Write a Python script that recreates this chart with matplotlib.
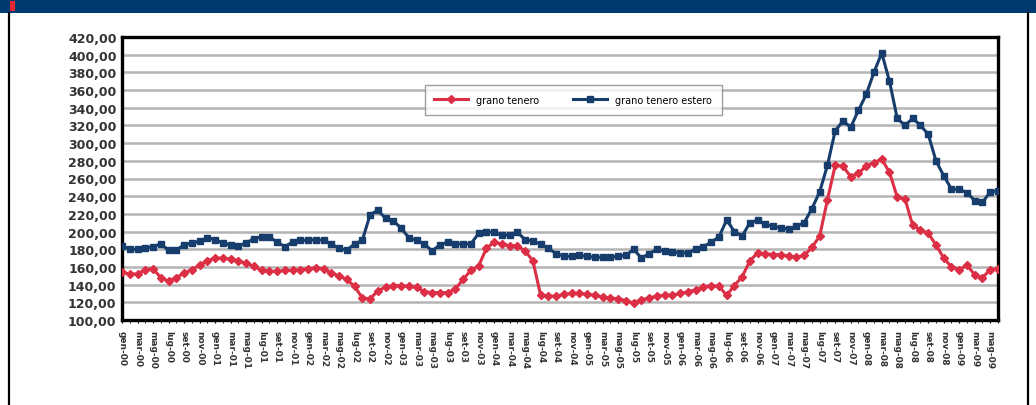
import matplotlib
matplotlib.use("Agg")
import matplotlib.pyplot as plt
from matplotlib.patches import Rectangle
from matplotlib.lines import Line2D

# dati mensili gen-00 .. giu-09
mesi = ["gen", "feb", "mar", "apr", "mag", "giu", "lug", "ago", "set", "ott", "nov", "dic"]
anni = ["00", "01", "02", "03", "04", "05", "06", "07", "08", "09"]
categorie = [m + "-" + a for a in anni for m in mesi][:114]

grano_tenero = [
    154, 152, 152, 157, 158, 148, 144, 148, 153, 157, 162, 167,
    170, 170, 169, 167, 164, 161, 156, 155, 155, 156, 156, 157,
    158, 159, 158, 153, 150, 146, 138, 125, 124, 133, 137, 139,
    139, 138, 137, 132, 131, 131, 131, 135, 146, 156, 161, 181,
    188, 186, 184, 184, 178, 167, 128, 127, 127, 129, 130, 130,
    129, 128, 126, 125, 124, 122, 119, 123, 125, 127, 128, 128,
    130, 132, 134, 137, 139, 138, 128, 139, 149, 167, 176, 175,
    174, 174, 172, 171, 173, 182, 195, 236, 275, 274, 262, 266,
    274, 278, 282, 267, 239, 237, 207, 202, 198, 185, 170, 160,
    157, 162, 151, 148, 157, 158,
]

grano_tenero_estero = [
    184, 180, 180, 181, 183, 186, 179, 179, 185, 187, 189, 193,
    191, 187, 185, 184, 187, 192, 194, 194, 188, 183, 188, 190,
    190, 191, 190, 186, 181, 179, 186, 190, 219, 224, 215, 212,
    204, 193, 190, 186, 178, 185, 188, 186, 186, 186, 198, 200,
    199, 196, 196, 199, 191, 189, 186, 181, 175, 172, 172, 173,
    172, 171, 171, 171, 172, 173, 180, 170, 175, 180, 178, 177,
    176, 176, 180, 183, 188, 194, 213, 200, 195, 210, 213, 208,
    206, 204, 203, 206, 210, 226, 245, 275, 314, 325, 318, 337,
    355, 380, 402, 370, 328, 320, 328, 320, 310, 280, 263, 248,
    248, 244, 235, 233, 245, 246,
]

y_ticks = list(range(100, 421, 20))

x = list(range(len(categorie)))

fig = plt.figure(figsize=(10.36, 4.06), dpi=100)
fig.patch.set_facecolor("white")

# fascia blu in alto e bordi
fig.add_artist(Rectangle((0, 1 - 14 / 406), 1, 14 / 406, transform=fig.transFigure,
                         facecolor="#003a70", edgecolor="none"))
fig.add_artist(Rectangle((10 / 1036, 1 - 12 / 406), 5 / 1036, 10 / 406, transform=fig.transFigure,
                         facecolor="#e3262f", edgecolor="none"))
fig.add_artist(Line2D([8.5 / 1036, 8.5 / 1036], [0, 1 - 14 / 406], transform=fig.transFigure,
                      color="black", lw=1.6))
fig.add_artist(Line2D([1027.5 / 1036, 1027.5 / 1036], [0, 1 - 14 / 406], transform=fig.transFigure,
                      color="black", lw=1.6))

ax = fig.add_axes([122 / 1036, 1 - 321 / 406, 876 / 1036, 283 / 406])

ax.plot(x, grano_tenero, color="#dc2f45", lw=2.2, marker="D", markersize=3.6,
        label="grano tenero", zorder=3)
ax.plot(x, grano_tenero_estero, color="#163d6b", lw=2.2, marker="s", markersize=4,
        label="grano tenero estero", zorder=4)

ax.set_xlim(0, len(categorie) - 1)
ax.set_ylim(100, 420)
ax.set_yticks(y_ticks)
ax.set_yticklabels([f"{v},00" for v in y_ticks], fontsize=9, fontweight="bold", color="#333333")
ax.yaxis.grid(True, color="#b4b4b4", lw=1.8)
ax.set_axisbelow(True)

ax.set_xticks(x[::2])
ax.set_xticklabels(categorie[::2], rotation=-90, fontsize=6.5, fontweight="bold", color="#333333")
ax.set_xticks(x, minor=True)
ax.tick_params(axis="x", which="both", length=2.5, direction="out", pad=5)
ax.tick_params(axis="y", length=0, pad=4)

for s in ax.spines.values():
    s.set_linewidth(2.4)
    s.set_color("black")

leg = ax.legend(loc="upper center", bbox_to_anchor=(0.515, 0.847), ncol=2, fontsize=7,
                frameon=True, fancybox=False, edgecolor="#888888", handlelength=3.5,
                columnspacing=3.5, borderpad=1.0, handletextpad=0.8)
leg.get_frame().set_linewidth(1)

fig.savefig("out.png", dpi=100)
